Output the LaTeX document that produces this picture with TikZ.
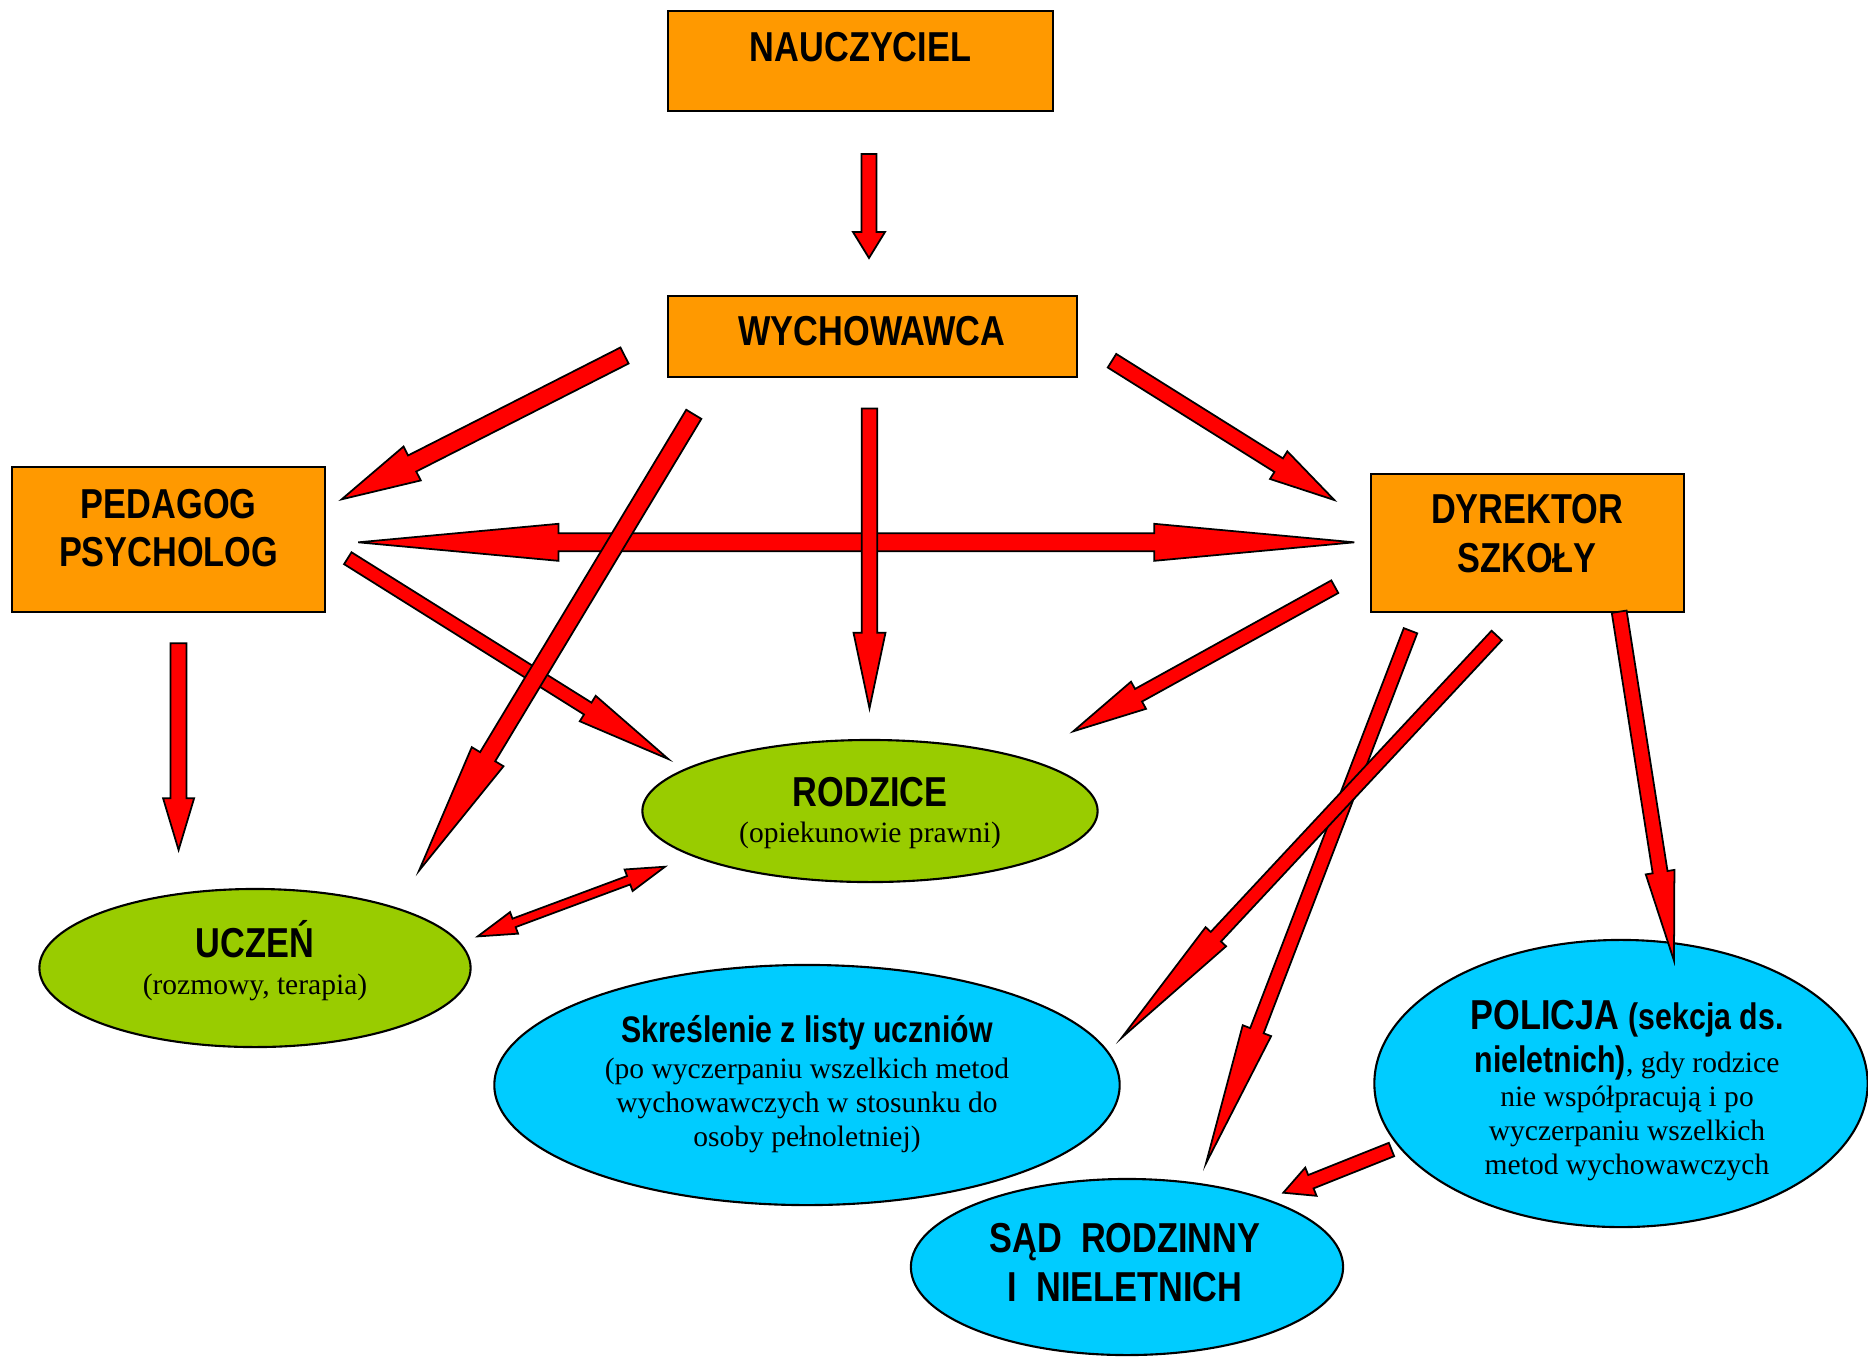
\documentclass[tikz,border=0pt]{standalone}
\usepackage{fontspec}
\setmainfont{Liberation Serif}
\newfontfamily\nb[FakeStretch=0.82]{Liberation Sans}
\usetikzlibrary{calc,shapes.geometric}
\definecolor{boxor}{HTML}{FF9900}
\definecolor{elgr}{HTML}{99CC00}
\definecolor{elcy}{HTML}{00CCFF}
\definecolor{arred}{HTML}{FF0000}
\newcommand\Lbl{\nb\bfseries\fontsize{11.9}{13.75}\selectfont}
\newcommand\Mbl{\nb\bfseries\fontsize{10.5}{12}\selectfont}
\newcommand\Ser{\fontsize{8.4}{9.67}\selectfont}
\def\pxu{0.28453pt}
% single block arrow: tail, tip, shaft half width, head half width, head length (px)
\newcommand\blockarrow[5]{%
  \coordinate (hb) at ($(#2)!#5*\pxu!(#1)$);
  \draw[arrsty] ($(#1)!#3*\pxu!90:(#2)$) -- ($(hb)!#3*\pxu!90:(#2)$) --
    ($(hb)!#4*\pxu!90:(#2)$) -- (#2) -- ($(hb)!#4*\pxu!-90:(#2)$) --
    ($(hb)!#3*\pxu!-90:(#2)$) -- ($(#1)!#3*\pxu!-90:(#2)$) -- cycle;}
% double block arrow
\newcommand\dblarrow[5]{%
  \coordinate (hbA) at ($(#1)!#5*\pxu!(#2)$);
  \coordinate (hbB) at ($(#2)!#5*\pxu!(#1)$);
  \draw[arrsty] (#1) -- ($(hbA)!#4*\pxu!90:(#2)$) -- ($(hbA)!#3*\pxu!90:(#2)$) --
    ($(hbB)!#3*\pxu!90:(#2)$) -- ($(hbB)!#4*\pxu!90:(#2)$) -- (#2) --
    ($(hbB)!#4*\pxu!-90:(#2)$) -- ($(hbB)!#3*\pxu!-90:(#2)$) --
    ($(hbA)!#3*\pxu!-90:(#2)$) -- ($(hbA)!#4*\pxu!-90:(#2)$) -- cycle;}
\begin{document}
\begin{tikzpicture}[x=0.01cm,y=-0.01cm,
  box/.style={draw=black,line width=0.6pt,fill=boxor,inner sep=0pt},
  oval/.style={ellipse,draw=black,line width=0.6pt,inner sep=0pt},
  txt/.style={inner sep=0pt,align=center,anchor=base},
  arrsty/.style={draw=black,line width=0.5pt,fill=arred,line join=miter}]
\useasboundingbox (0,0) rectangle (1868,1356);
\fill[white] (0,0) rectangle (1868,1356);

% boxes
\node[box,minimum width=3.85cm,minimum height=1.00cm] (nauc) at (860.5,61) {};
\node[box,minimum width=4.09cm,minimum height=0.81cm] (wych) at (872.5,336.5) {};
\node[box,minimum width=3.125cm,minimum height=1.45cm] (ped) at (168.75,539.5) {};
\node[box,minimum width=3.12cm,minimum height=1.377cm] (dyr) at (1527.5,542.8) {};

% ellipses
\node[oval,fill=elgr,minimum width=4.55cm,minimum height=1.42cm] (rodz) at (870,811) {};
\node[oval,fill=elgr,minimum width=4.31cm,minimum height=1.58cm] (ucz) at (255,968) {};
\node[oval,fill=elcy,minimum width=6.25cm,minimum height=2.40cm] (skr) at (807,1085) {};
\node[oval,fill=elcy,minimum width=4.32cm,minimum height=1.76cm] (sad) at (1127,1267) {};
\node[oval,fill=elcy,minimum width=4.93cm,minimum height=2.87cm] (pol) at (1621,1083.5) {};

% texts (multi-line nodes: base anchor = last line baseline)
\node[txt,font=\Lbl] (tnauc) at (860.5,61.7) {NAUCZYCIEL};
\node[txt,font=\Lbl] (twych) at (872,345) {WYCHOWAWCA};
\node[txt,font=\Lbl] (tped) at (168.7,566.5) {PEDAGOG\\PSYCHOLOG};
\node[txt,font=\Lbl] (tdyr) at (1527,572) {DYREKTOR\\SZKOŁY};
\node[txt,font={\fontsize{8.4}{10.05}\selectfont\lineskiplimit=-100pt}] (trodz) at (870,842)
  {{\Lbl RODZICE}\\(opiekunowie prawni)};
\node[txt,font={\fontsize{8.4}{10.4}\selectfont\lineskiplimit=-100pt}] (tucz) at (255,994.2)
  {{\Lbl UCZEŃ}\\(rozmowy, terapia)};
\node[txt,font={\Ser\lineskiplimit=-100pt}] (tskr) at (807,1146)
  {{\Mbl Skreślenie z listy uczniów}\\[0.3pt](po wyczerpaniu wszelkich metod\\wychowawczych w stosunku do\\osoby pełnoletniej)};
\node[txt,font=\Lbl] (tsad) at (1125,1301.3) {SĄD\ \ RODZINNY\\I\ \ NIELETNICH};
\node[txt,font={\Ser\lineskiplimit=-100pt}] (tpol) at (1627,1174.5)
  {{\Lbl POLICJA \Mbl(sekcja ds.}\\[2.7pt]{\Mbl nieletnich)}, gdy rodzice\\nie współpracują i po\\wyczerpaniu wszelkich\\metod wychowawczych};

% arrow end points
\coordinate (a1s) at (869,154);     \coordinate (a1e) at (869,258);
\coordinate (a2s) at (624.5,355.5); \coordinate (a2e) at (341.7,499.3);
\coordinate (a3s) at (693.8,414.3); \coordinate (a3e) at (419,870.7);
\coordinate (a4s) at (869.5,408.6); \coordinate (a4e) at (869.5,708.3);
\coordinate (a5s) at (1112,360.7);  \coordinate (a5e) at (1334.3,500);
\coordinate (a6s) at (358.3,542.3); \coordinate (a6e) at (1354.3,542.3);
\coordinate (a7s) at (347.8,558.2); \coordinate (a7e) at (668.3,759);
\coordinate (a8s) at (178.6,643.3); \coordinate (a8e) at (178.6,850);
\coordinate (a9s) at (1334.8,586.7); \coordinate (a9e) at (1073.3,731.3);
\coordinate (a10s) at (1410.5,630.7); \coordinate (a10e) at (1206,1163.3);
\coordinate (a11s) at (1496.7,635.5); \coordinate (a11e) at (1121.7,1037.7);
\coordinate (a12s) at (1619.2,611.7); \coordinate (a12e) at (1674,960.7);
\coordinate (a13s) at (477.7,936.4); \coordinate (a13e) at (665,866.7);
\coordinate (a14s) at (1391.5,1149.5); \coordinate (a14e) at (1283.3,1192.7);

% arrows
\blockarrow{a1s}{a1e}{7.5}{16}{26}
\blockarrow{a2s}{a2e}{9}{19}{79}
\dblarrow{a6s}{a6e}{9}{18.5}{200}
\blockarrow{a7s}{a7e}{7}{15}{95}
\blockarrow{a4s}{a4e}{7.8}{16}{75.6}
\blockarrow{a3s}{a3e}{8.8}{18.5}{133}
\blockarrow{a5s}{a5e}{8}{16.3}{65.6}
\blockarrow{a8s}{a8e}{8}{15.5}{51.7}
\blockarrow{a9s}{a9e}{7.2}{15.5}{74.5}
\blockarrow{a10s}{a10e}{7.2}{15.2}{142}
\blockarrow{a11s}{a11e}{7}{14}{138}
\blockarrow{a12s}{a12e}{7.5}{14.5}{89.6}
\dblarrow{a13s}{a13e}{4.5}{11.5}{38.8}
\blockarrow{a14s}{a14e}{7.2}{15.2}{29.7}
\end{tikzpicture}
\end{document}
